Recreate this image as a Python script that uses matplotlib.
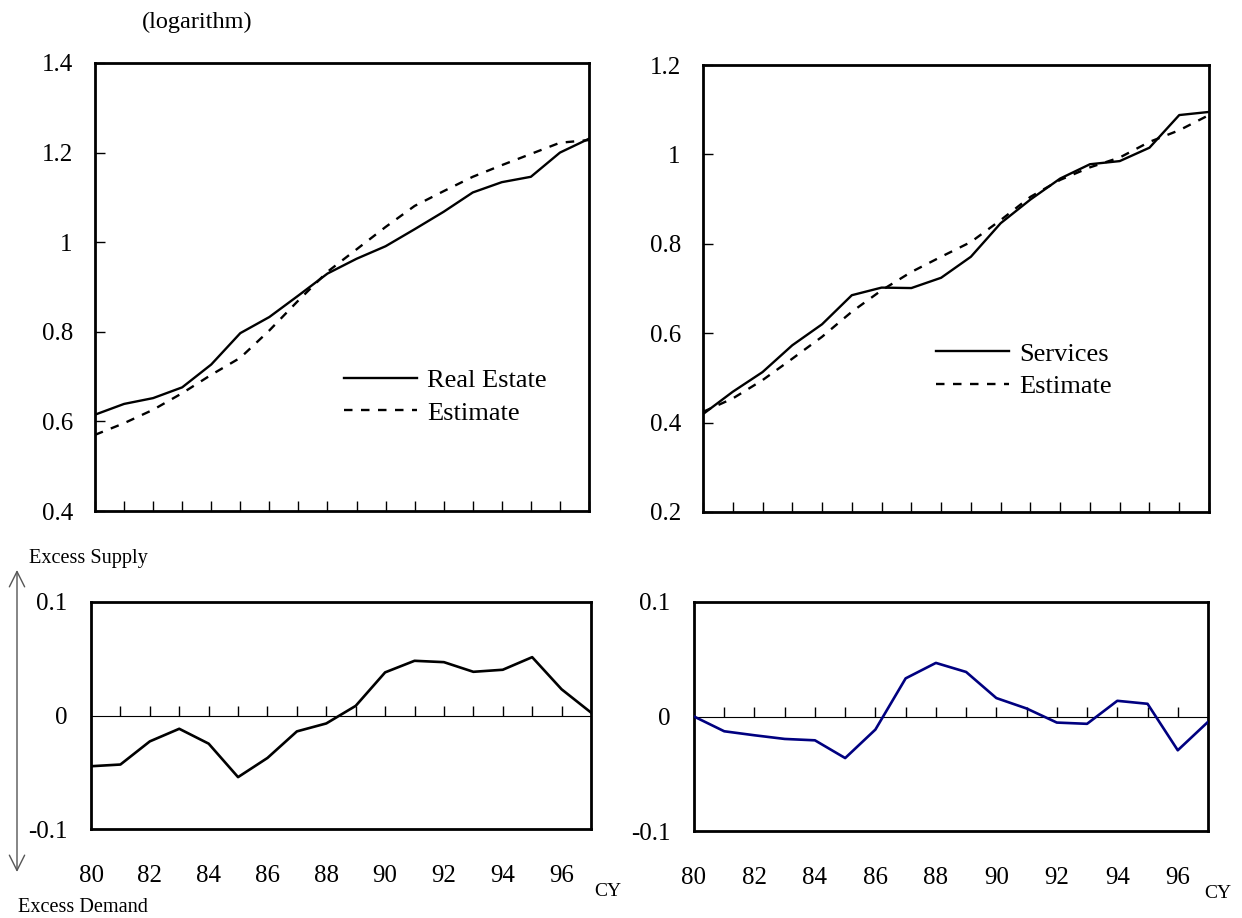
import matplotlib
matplotlib.use("Agg")
import matplotlib.pyplot as plt
from matplotlib.ticker import FuncFormatter

plt.rcParams['font.family'] = ['Liberation Serif', 'DejaVu Serif']
plt.rcParams['axes.unicode_minus'] = False

# ---------------- data ----------------
years = list(range(80, 98))
major_years = list(range(80, 97, 2))

real_estate = [0.615, 0.639, 0.652, 0.676, 0.727, 0.797, 0.833, 0.881, 0.930,
               0.963, 0.991, 1.029, 1.068, 1.111, 1.134, 1.146, 1.200, 1.231]
real_estate_est = [0.570, 0.596, 0.626, 0.663, 0.704, 0.742, 0.803, 0.870, 0.934,
                   0.984, 1.034, 1.081, 1.114, 1.146, 1.172, 1.197, 1.222, 1.228]

services = [0.419, 0.469, 0.513, 0.573, 0.620, 0.685, 0.702, 0.701, 0.724,
            0.771, 0.846, 0.899, 0.946, 0.978, 0.985, 1.015, 1.088, 1.095]
services_est = [0.424, 0.454, 0.495, 0.543, 0.592, 0.648, 0.696, 0.737, 0.771,
                0.804, 0.853, 0.905, 0.943, 0.971, 0.993, 1.028, 1.054, 1.088]

gap_real_estate = [-0.0447, -0.0432, -0.0228, -0.0117, -0.0248, -0.0543, -0.0374,
                   -0.0140, -0.0070, 0.0085, 0.0380, 0.0482, 0.0470, 0.0385,
                   0.0403, 0.0514, 0.0231, 0.0026]
gap_services = [0.0, -0.0129, -0.0164, -0.0196, -0.0208, -0.0363, -0.0114, 0.0333,
                0.0468, 0.0389, 0.0161, 0.0070, -0.0053, -0.0064, 0.0137, 0.0111,
                -0.0295, -0.0047]

tl_yticks = [0.4, 0.6, 0.8, 1.0, 1.2, 1.4]
tr_yticks = [0.2, 0.4, 0.6, 0.8, 1.0, 1.2]
gap_yticks = [-0.1, 0.0, 0.1]

# ---------------- layout ----------------
W, H = 1242, 918
fig = plt.figure(figsize=(W / 100, H / 100), dpi=100)


def add_axes_px(x0, y0, x1, y1):
    return fig.add_axes([x0 / W, (H - y1) / H, (x1 - x0) / W, (y1 - y0) / H])


fmt = FuncFormatter(lambda v, p: f"{v:g}")
FS = 18
LFS = 19
DASH = (3.6, 3.6)


def style_top(ax, yticks):
    for s in ax.spines.values():
        s.set_linewidth(2.0)
    ax.set_xlim(years[0], years[-1])
    ax.set_ylim(yticks[0], yticks[-1])
    ax.set_xticks(years)
    ax.set_yticks(yticks)
    ax.yaxis.set_major_formatter(fmt)
    ax.tick_params(axis='x', direction='in', length=7, width=1, labelbottom=False)
    ax.tick_params(axis='y', direction='in', length=7, width=1, labelsize=FS, pad=16)


def style_gap(ax):
    for s in ax.spines.values():
        s.set_linewidth(2.0)
    ax.set_xlim(years[0], years[-1])
    ax.set_ylim(gap_yticks[0], gap_yticks[-1])
    ax.set_yticks(gap_yticks)
    ax.yaxis.set_major_formatter(fmt)
    ax.set_xticks(major_years)
    ax.set_xticklabels([f"{y}" for y in major_years])
    ax.tick_params(axis='x', length=0, labelsize=FS, pad=26)
    ax.tick_params(axis='y', length=0, labelsize=FS, pad=17)
    ax.axhline(0, color='black', lw=0.8, zorder=1)
    # year tick marks standing on the zero line
    ax.plot(years[1:-1], [0] * len(years[1:-1]), linestyle='none', marker=2,
            markersize=7, markeredgewidth=1, color='black', zorder=2)


# Top-left: Real estate
ax1 = add_axes_px(95, 63, 589, 511)
style_top(ax1, tl_yticks)
ax1.plot(years, real_estate, color='black', lw=1.7, label='Real Estate')
ax1.plot(years, real_estate_est, color='black', lw=1.7, dashes=DASH, label='Estimate')
ax1.legend(loc='upper left', bbox_to_anchor=(0.504, 0.318), frameon=False,
           fontsize=LFS, handlelength=2.75, handletextpad=0.4, labelspacing=0.35,
           borderpad=0, borderaxespad=0)

# Top-right: Services
ax2 = add_axes_px(703, 65, 1209, 512)
style_top(ax2, tr_yticks)
ax2.plot(years, services, color='black', lw=1.7, label='Services')
ax2.plot(years, services_est, color='black', lw=1.7, dashes=DASH, label='Estimate')
ax2.legend(loc='upper left', bbox_to_anchor=(0.461, 0.38), frameon=False,
           fontsize=LFS, handlelength=2.75, handletextpad=0.4, labelspacing=0.35,
           borderpad=0, borderaxespad=0)

# Bottom-left: gap real estate
ax3 = add_axes_px(91, 602, 591, 829)
style_gap(ax3)
ax3.plot(years, gap_real_estate, color='black', lw=1.9, zorder=3)

# Bottom-right: gap services
ax4 = add_axes_px(694, 602, 1208, 831)
style_gap(ax4)
ax4.plot(years, gap_services, color='#000080', lw=1.9, zorder=3)

# ---------------- texts ----------------
def ftext(x, y, s, **kw):
    fig.text(x / W, 1 - y / H, s, **kw)

ftext(197, 22, "(logarithm)", fontsize=17.5, ha='center', va='center')
ftext(29, 558, "Excess Supply", fontsize=14.6, ha='left', va='center')
ftext(18, 907, "Excess Demand", fontsize=14.6, ha='left', va='center')
ftext(608, 892, "CY", fontsize=14, ha='center', va='center')
ftext(1218, 893, "CY", fontsize=14, ha='center', va='center')

fig.add_artist(matplotlib.patches.FancyArrowPatch(
    (17 / W, 1 - 570 / H), (17 / W, 1 - 872 / H), transform=fig.transFigure,
    arrowstyle='<->,head_length=1.1,head_width=0.55', color='#555555', lw=1.0,
    mutation_scale=10, shrinkA=0, shrinkB=0))

fig.savefig("out.png", dpi=100)
